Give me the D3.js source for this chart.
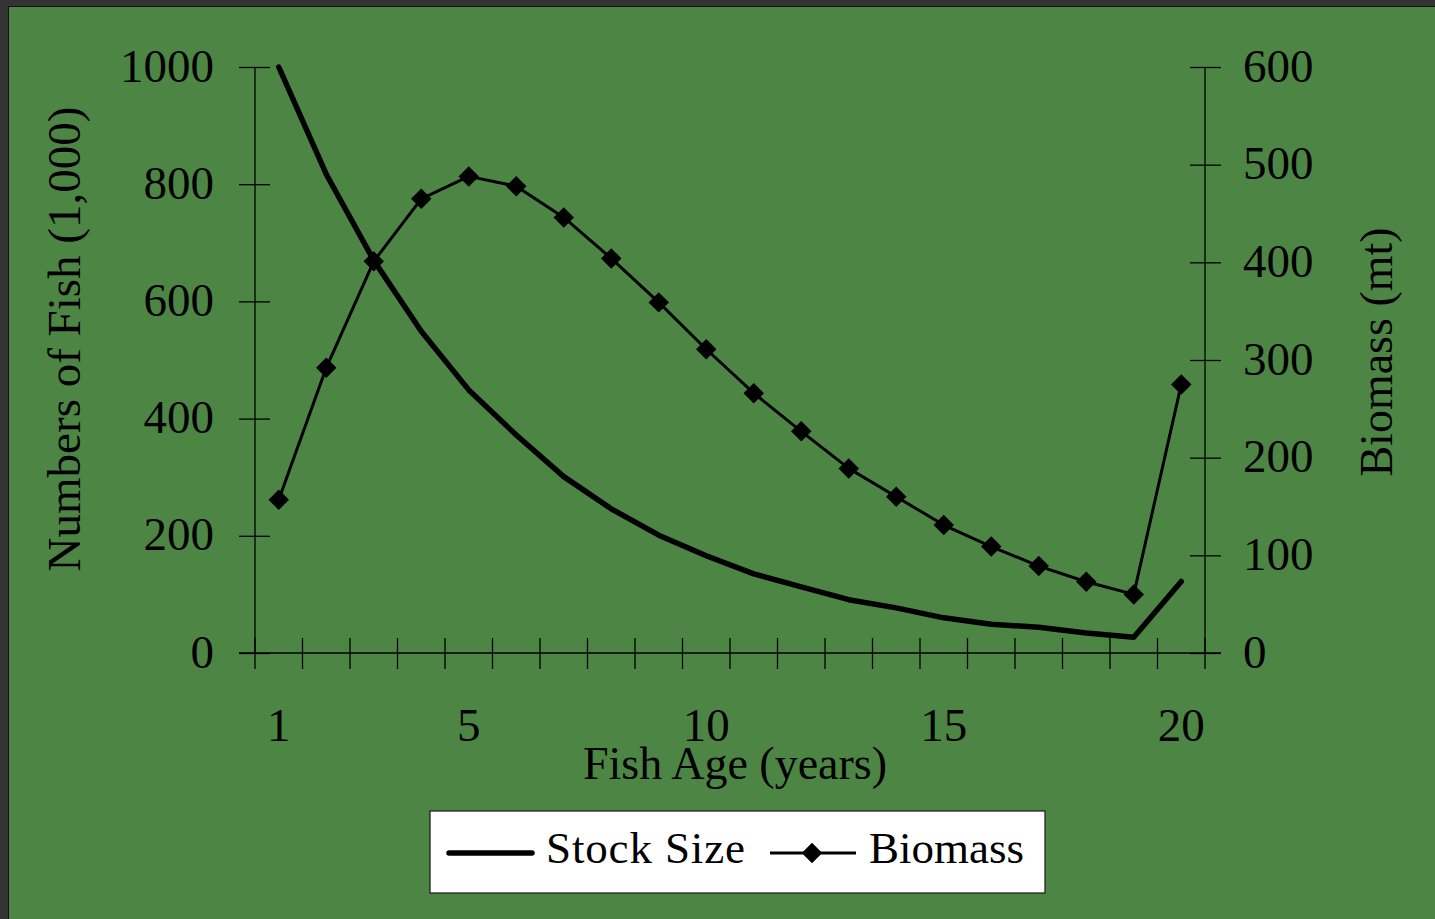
<!DOCTYPE html>
<html>
<head>
<meta charset="utf-8">
<script src="https://cdn.jsdelivr.net/npm/d3@7"></script>
<style>
  html, body { margin: 0; padding: 0; background: #4d8644; }
  svg { display: block; }
  text { font-family: "Liberation Serif", "Times New Roman", serif; fill: #000; }
</style>
</head>
<body>
<svg id="chart" width="1435" height="919"></svg>
<script>
const ages = [1,2,3,4,5,6,7,8,9,10,11,12,13,14,15,16,17,18,19,20];
const stockSize = [1000, 817, 670, 549, 449, 372, 301, 246, 201, 166, 135, 113, 91, 77, 60, 49, 44, 34, 27, 122];
const biomass = [157, 292, 401, 465, 488, 478, 446, 404, 359, 311, 266, 227, 189, 160, 131, 109, 89, 73, 60, 275];
const xTickLabels = [1, 5, 10, 15, 20];
const leftTicks = [0, 200, 400, 600, 800, 1000];
const rightTicks = [0, 100, 200, 300, 400, 500, 600];

const svg = d3.select("#chart");
const W = 1435, H = 919;
const L = 255, R = 1205, T = 67, B = 653;

svg.append("rect").attr("width", W).attr("height", H).attr("fill", "#4d8644");
// dark frame on top / left
svg.append("rect").attr("x", 0).attr("y", 0).attr("width", W).attr("height", 6).attr("fill", "#333");
svg.append("rect").attr("x", 0).attr("y", 0).attr("width", 8).attr("height", H).attr("fill", "#333");
svg.append("line").attr("x1", 8).attr("x2", W).attr("y1", 6.5).attr("y2", 6.5).attr("stroke", "#111").attr("stroke-width", 1);
svg.append("line").attr("x1", 8.5).attr("x2", 8.5).attr("y1", 6).attr("y2", H).attr("stroke", "#111").attr("stroke-width", 1);

const x = d3.scaleBand().domain(ages).range([L, R]).padding(0);
const cx = d => x(d) + x.bandwidth() / 2;
const yL = d3.scaleLinear().domain([0, 1000]).range([B, T]);
const yR = d3.scaleLinear().domain([0, 600]).range([B, T]);

const axisColor = "#000";
const fs = 47;

// Left axis
const gL = svg.append("g").attr("transform", `translate(${L},0)`)
  .call(d3.axisLeft(yL).tickValues(leftTicks).tickSize(0).tickPadding(0).tickFormat(d3.format("d")));
gL.select(".domain").remove();
gL.selectAll(".tick text").remove();
svg.append("line").attr("x1", L).attr("x2", L).attr("y1", T).attr("y2", B).attr("stroke", axisColor).attr("stroke-width", 1.3);
gL.selectAll(".tick").append("line").attr("x1", -16).attr("x2", 15).attr("stroke", axisColor).attr("stroke-width", 1.3);
gL.selectAll(".tick").append("text").attr("x", -41).attr("y", 14).attr("text-anchor", "end")
  .style("font-size", fs + "px").text(d => d);

// Right axis
const gR = svg.append("g").attr("transform", `translate(${R},0)`)
  .call(d3.axisRight(yR).tickValues(rightTicks).tickSize(0).tickPadding(0));
gR.select(".domain").remove();
gR.selectAll(".tick text").remove();
svg.append("line").attr("x1", R).attr("x2", R).attr("y1", T).attr("y2", B).attr("stroke", axisColor).attr("stroke-width", 1.3);
gR.selectAll(".tick").append("line").attr("x1", -15).attr("x2", 16).attr("stroke", axisColor).attr("stroke-width", 1.3);
gR.selectAll(".tick").append("text").attr("x", 38).attr("y", 14).attr("text-anchor", "start")
  .style("font-size", fs + "px").text(d => d);

// X axis
svg.append("line").attr("x1", L - 16).attr("x2", R + 16).attr("y1", B).attr("y2", B).attr("stroke", axisColor).attr("stroke-width", 1.3);
const boundaries = ages.map(a => x(a)).concat([x(ages[ages.length - 1]) + x.bandwidth()]);
svg.append("g").selectAll("line").data(boundaries).join("line")
  .attr("x1", d => d).attr("x2", d => d).attr("y1", B - 15).attr("y2", B + 16)
  .attr("stroke", axisColor).attr("stroke-width", 1.3);
svg.append("g").selectAll("text").data(xTickLabels).join("text")
  .attr("x", d => cx(d)).attr("y", 741).attr("text-anchor", "middle")
  .style("font-size", fs + "px").text(d => d);

// Axis titles
svg.append("text").attr("transform", `translate(80,339) rotate(-90)`).attr("text-anchor", "middle")
  .style("font-size", "47px").text("Numbers of Fish (1,000)");
svg.append("text").attr("transform", `translate(1392,352) rotate(-90)`).attr("text-anchor", "middle")
  .style("font-size", "46px").text("Biomass (mt)");
svg.append("text").attr("x", 735).attr("y", 779).attr("text-anchor", "middle")
  .style("font-size", "46px").text("Fish Age (years)");

// Stock size line
const lineL = d3.line().x((d, i) => cx(ages[i])).y(d => yL(d));
svg.append("path").datum(stockSize).attr("d", lineL).attr("fill", "none")
  .attr("stroke", "#000").attr("stroke-width", 5.5).attr("stroke-linejoin", "round").attr("stroke-linecap", "round");

// Biomass line + diamonds
const lineR = d3.line().x((d, i) => cx(ages[i])).y(d => yR(d));
svg.append("path").datum(biomass).attr("d", lineR).attr("fill", "none")
  .attr("stroke", "#000").attr("stroke-width", 3).attr("stroke-linejoin", "round");
const diamond = d3.symbol().type(d3.symbolSquare).size(210);
svg.append("g").selectAll("path").data(biomass).join("path")
  .attr("d", diamond)
  .attr("transform", (d, i) => `translate(${cx(ages[i])},${yR(d)}) rotate(45)`)
  .attr("fill", "#000");

// Legend
const lg = svg.append("g");
lg.append("rect").attr("x", 430).attr("y", 811).attr("width", 615).attr("height", 82)
  .attr("fill", "#fff").attr("stroke", "#222").attr("stroke-width", 1.3);
lg.append("line").attr("x1", 449).attr("x2", 532).attr("y1", 853).attr("y2", 853)
  .attr("stroke", "#000").attr("stroke-width", 5.5).attr("stroke-linecap", "round");
lg.append("text").attr("x", 546).attr("y", 863).style("font-size", "45px").attr("textLength", 199).text("Stock Size");
lg.append("line").attr("x1", 770).attr("x2", 856).attr("y1", 853).attr("y2", 853)
  .attr("stroke", "#000").attr("stroke-width", 3);
lg.append("path").attr("d", diamond).attr("transform", "translate(812,853) rotate(45)").attr("fill", "#000");
lg.append("text").attr("x", 869).attr("y", 863).style("font-size", "45px").attr("textLength", 155).text("Biomass");
</script>
</body>
</html>
